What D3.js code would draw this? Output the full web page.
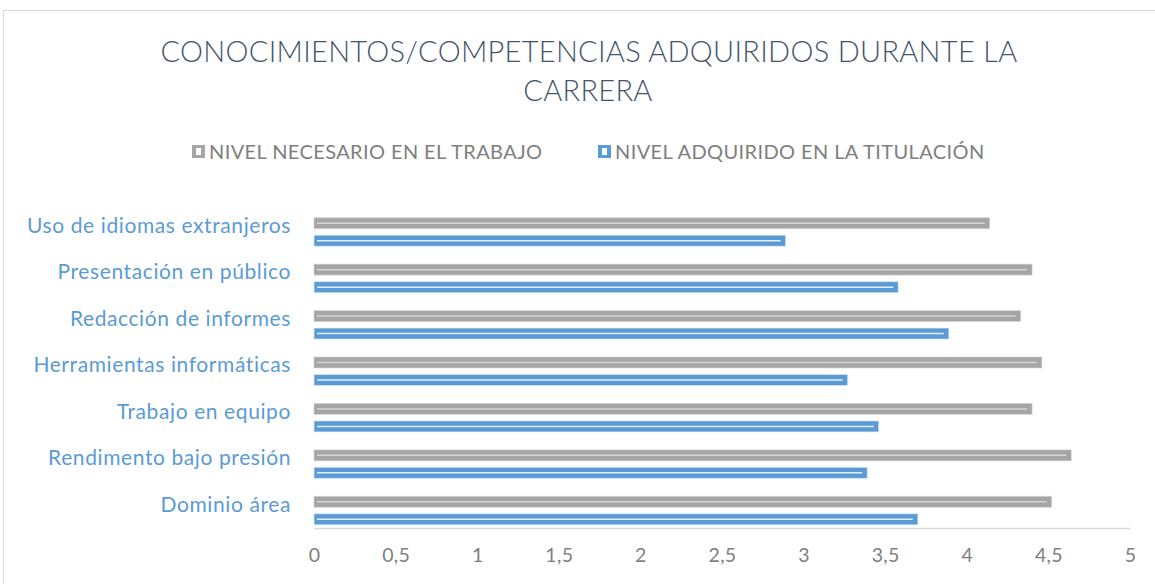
<!DOCTYPE html>
<html>
<head>
<meta charset="utf-8">
<script src="https://cdn.jsdelivr.net/npm/d3@7"></script>
<style>
  body { margin: 0; background: #fff; }
  svg { display: block; font-family: Lato, "Open Sans", sans-serif; }
</style>
</head>
<body>
<div id="chart"></div>
<script>
// chart data
var categories = ["Uso de idiomas extranjeros", "Presentación en público", "Redacción de informes",
                  "Herramientas informáticas", "Trabajo en equipo", "Rendimento bajo presión", "Dominio área"];
var necesario = [4.14, 4.40, 4.33, 4.46, 4.40, 4.64, 4.52];
var adquirido = [2.89, 3.58, 3.89, 3.27, 3.46, 3.39, 3.70];
var seriesNames = ["NIVEL NECESARIO EN EL TRABAJO", "NIVEL ADQUIRIDO EN LA TITULACIÓN"];
var tickValues = [0, 0.5, 1, 1.5, 2, 2.5, 3, 3.5, 4, 4.5, 5];

var colors = ["#A5A5A5", "#5B9BD5"];
var lineColors = ["#D6D6D6", "#E4EEF8"];

var graphWidth = 1155, graphHeight = 584;
var margin = {top: 203, right: 25, bottom: 56, left: 314};

var svg = d3.select("#chart").append("svg")
    .attr("width", graphWidth)
    .attr("height", graphHeight);

// chart border
svg.append("rect")
    .attr("x", 3.5).attr("y", 10.5)
    .attr("width", 1170).attr("height", 600)
    .attr("fill", "none").attr("stroke", "#D9D9D9");

// title
svg.append("text")
    .attr("x", 589).attr("y", 62)
    .attr("text-anchor", "middle")
    .attr("fill", "#44546A")
    .style("font-size", "29px")
    .style("font-weight", 300)
    .style("letter-spacing", "0.3px")
    .text("CONOCIMIENTOS/COMPETENCIAS ADQUIRIDOS DURANTE LA");
svg.append("text")
    .attr("x", 588).attr("y", 101)
    .attr("text-anchor", "middle")
    .attr("fill", "#44546A")
    .style("font-size", "29px")
    .style("font-weight", 300)
    .style("letter-spacing", "0.3px")
    .text("CARRERA");

// scales
var x = d3.scaleLinear()
    .domain([0, 5])
    .range([margin.left, graphWidth - margin.right]);

var y = d3.scaleBand()
    .domain(categories)
    .range([margin.top, graphHeight - margin.bottom]);

var ySub = d3.scaleBand()
    .domain([0, 1])
    .range([-8.5, 20])
    .paddingInner(0.371);

// x axis
var xAxis = d3.axisBottom(x)
    .tickValues(tickValues)
    .tickSize(0)
    .tickPadding(20)
    .tickFormat(function(d) { return String(d).replace(".", ","); });

var xAxisArea = svg.append("g")
    .attr("transform", "translate(0," + (graphHeight - margin.bottom) + ")")
    .call(xAxis);
xAxisArea.select(".domain").attr("stroke", "#D9D9D9").attr("stroke-width", 1.5);
xAxisArea.selectAll("text")
    .attr("fill", "#7F7F7F")
    .style("font-size", "19.5px")
    .style("letter-spacing", "0.3px")
    .style("font-family", "Lato, sans-serif");

// y axis labels
var yAxis = d3.axisLeft(y).tickSize(0).tickPadding(23);
var yAxisArea = svg.append("g")
    .attr("transform", "translate(" + margin.left + ",0)")
    .call(yAxis);
yAxisArea.select(".domain").remove();
yAxisArea.selectAll("text")
    .attr("fill", "#5B9BD5")
    .style("font-size", "21px")
    .style("letter-spacing", "0.6px")
    .style("font-family", "Lato, sans-serif");

// bars
[necesario, adquirido].forEach(function(values, s) {
  var g = svg.append("g").attr("class", "series" + s);
  var bars = g.selectAll("g").data(values).enter().append("g")
      .attr("transform", function(d, i) {
        return "translate(0," + (y(categories[i]) + y.bandwidth() / 2 + ySub(s)) + ")";
      });
  bars.append("rect")
      .attr("x", x(0))
      .attr("y", 0)
      .attr("width", function(d) { return x(d) - x(0); })
      .attr("height", ySub.bandwidth())
      .attr("fill", colors[s])
      .attr("stroke", lineColors[s])
      .attr("stroke-opacity", 0.6)
      .attr("stroke-width", 1);
  // inner compound line
  bars.append("line")
      .attr("x1", x(0) + 3)
      .attr("x2", function(d) { return x(d) - 5; })
      .attr("y1", ySub.bandwidth() / 2)
      .attr("y2", ySub.bandwidth() / 2)
      .attr("stroke", lineColors[s])
      .attr("stroke-width", 1.5);
});

// legend
var legendX = [192, 598];
var legend = svg.selectAll(".legendItem").data(seriesNames).enter().append("g")
    .attr("class", "legendItem")
    .attr("transform", function(d, i) { return "translate(" + legendX[i] + ",145)"; });
legend.append("rect")
    .attr("width", 13).attr("height", 13)
    .attr("fill", function(d, i) { return colors[i]; });
legend.append("rect")
    .attr("x", 4).attr("y", 3)
    .attr("width", 5).attr("height", 7)
    .attr("fill", "#fff");
legend.append("text")
    .attr("x", 17).attr("y", 6.5)
    .attr("dy", "0.35em")
    .attr("fill", "#7F7F7F")
    .style("font-size", "20px")
    .style("letter-spacing", "0.4px")
    .text(function(d) { return d; });
</script>
</body>
</html>
